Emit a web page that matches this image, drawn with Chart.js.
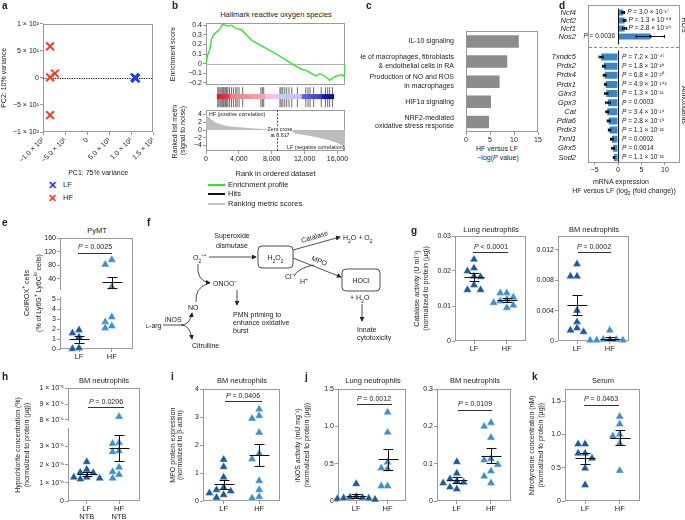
<!DOCTYPE html>
<html><head><meta charset="utf-8">
<script src="https://cdn.jsdelivr.net/npm/chart.js@4.4.1/dist/chart.umd.min.js"></script>
<style>
body{margin:0;background:#fff;}
#root{position:relative;width:685px;height:520px;overflow:hidden;font-family:"Liberation Sans",Arial,sans-serif;color:#222;background:#fff;-webkit-font-smoothing:antialiased;}
.t{position:absolute;white-space:nowrap;font-size:7px;line-height:1.15;}
</style></head>
<body><div id="root"></div>
<script>
// ================= DATA =================
// a: PCA
const pcaLFx = [108, 110, 109];
const pcaLFy = [1, -1, 0];
const pcaHFx = [-84, -84, -73, -84];
const pcaHFy = [58, 1, 8, -69];
const pcaXTicks = [-100, -50, 0, 50, 100, 150];
const pcaXLabels = ['−1.0 × 10²', '−5.0 × 10¹', '0', '5.0 × 10¹', '1.0 × 10²', '1.5 × 10²'];
const pcaYTicks = [-100, -50, 0, 50, 100];
const pcaYLabels = ['−1 × 10²', '−5 × 10¹', '0', '5 × 10¹', '1 × 10²'];
// b: GSEA
const esRank = [0,200,490,690,890,1170,1420,1700,1980,2310,2710,3120,3520,4330,5550,6760,8790,10400,11620,12230,12830,13440,13850,14450,15060,15590,15990,16480,16680,16880,16920];
const esScore = [0,0.087,0.156,0.26,0.295,0.32,0.337,0.36,0.406,0.40,0.39,0.40,0.37,0.35,0.243,0.184,0.087,0,-0.06,-0.07,-0.104,-0.128,-0.104,-0.128,-0.174,-0.139,-0.128,-0.115,-0.128,-0.12,0];
const hitRank = [121,283,445,607,769,891,1012,1174,1296,1417,1579,1822,2105,2389,2713,2915,3198,3725,6356,6559,6761,9109,9271,9514,9798,10081,10405,10810,11619,12834,13158,13441,13968,15061,15668,15992,16275,16680];
const metricRank = [0,150,490,1100,1800,2700,3700,4740,5900,7180,7400,8617,10500,10620,10830,11800,12850,13900,14880,15500,16100,16600,16920];
const metricValue = [4.3,3.6,3.0,2.0,1.45,1.0,0.78,0.6,0.42,0.25,0.06,0,-0.05,-0.6,-0.9,-1.2,-1.6,-2.05,-2.6,-3.0,-3.4,-4.0,-4.8];
const zeroCross = 8617;
const rankTicks = [0, 4000, 8000, 12000, 16000];
const rankLabels = ['0', '4,000', '8,000', '12,000', '16,000'];
const esTicks = [-0.2, -0.1, 0, 0.1, 0.2, 0.3, 0.4];
const esLabels = ['−0.2', '−0.1', '0', '0.1', '0.2', '0.3', '0.4'];
const metricTicks = [-4, -2, 0, 2, 4];
const metricLabels = ['−4', '−2', '0', '2', '4'];
// c: pathways
const pathways = ['IL-10 signaling', ['Role of macrophages, fibroblasts', '& endothelial cells in RA'], ['Production of NO and ROS', 'in macrophages'], 'HIF1α signaling', ['NRF2-mediated', 'oxidative stress response']];
const pathwayLogP = [11.0, 8.6, 7.0, 5.2, 4.8];
const cTicks = [0, 5, 10, 15];
const cLabels = ['0', '5', '10', '15'];
// d: mRNA fold change
const rosGenes = ['Ncf4', 'Ncf2', 'Ncf1', 'Nos2'];
const rosFC = [1.1, 1.4, 1.4, 6.9];
const rosErr = [0.3, 0.3, 0.45, 3.0];
const rosP = ['= 3.0 × 10⁻¹⁷', '= 1.3 × 10⁻⁶⁸', '= 2.8 × 10⁻²⁹', '= 0.0036'];
const antiGenes = ['Txndc5', 'Prdx2', 'Prdx4', 'Prdx1', 'Glrx3', 'Gpx3', 'Cat', 'Pdia6', 'Prdx3', 'Txnl1', 'Glrx5', 'Sod2'];
const antiFC = [-3.6, -3.0, -2.85, -2.65, -2.5, -2.15, -2.3, -2.0, -1.8, -1.3, -1.06, -0.85];
const antiErr = [0.45, 0.3, 0.3, 0.2, 0.35, 0.5, 0.3, 0.3, 0.25, 0.3, 0.3, 0.05];
const antiP = ['= 7.2 × 10⁻⁴⁷', '= 1.8 × 10⁻²⁹', '= 6.8 × 10⁻²⁰', '= 4.9 × 10⁻¹⁴³', '= 1.3 × 10⁻¹¹', '= 0.0003', '= 3.4 × 10⁻¹⁴', '= 2.8 × 10⁻¹⁹', '= 1.1 × 10⁻²²', '= 0.0002', '= 0.0014', '= 1.1 × 10⁻²²'];
const dTicks = [-5, 0, 5, 10];
const dLabels = ['−5', '0', '5', '10'];
// dot plots
const groups = ['LF', 'HF'];
const groupsNTB = [['LF', 'NTB'], ['HF', 'NTB']];
const eLF = [1.6, 1.9, 1.2, 0.02, 0.1];
const eHF = [82, 96, 16, 2.7, 2.1, 2.3, 3.2];
const eUpTicks = [40, 80, 120, 160], eUpLabels = ['40', '80', '120', '160'];
const eLoTicks = [0, 1, 2, 3, 4, 5], eLoLabels = ['0', '1', '2', '3', '4', '5'];
const gLungLF = [0.0233, 0.0208, 0.0200, 0.0185, 0.0183, 0.0160, 0.0146, 0.0146];
const gLungHF = [0.0137, 0.0137, 0.0125, 0.0119, 0.0114, 0.0109, 0.0102, 0.0095];
const gLungTicks = [0, 0.01, 0.02, 0.03], gLungLabels = ['0', '0.01', '0.02', '0.03'];
const gBMLF = [0.0101, 0.0085, 0.0085, 0.0040, 0.0025, 0.0017, 0.0014, 0.0012];
const gBMHF = [0.0014, 0.0002, 0.0002, 0.0001, 0.0001, 0.0002, 0.0001];
const gBMTicks = [0, 0.004, 0.008, 0.012], gBMLabels = ['0', '0.004', '0.008', '0.012'];
const hLF = [2.15e-6, 1.73e-6, 1.55e-6, 1.57e-6, 1.3e-6, 1.2e-6, 1.3e-6, 1.25e-6];
const hHF = [8.2e-6, 3.15e-6, 3.2e-6, 2.75e-6, 2.7e-6, 1.85e-6, 1.45e-6, 1.25e-6, 1.6e-6];
const hUpTicks = [8e-6, 9e-6, 1e-5], hUpLabels = ['8 × 10⁻⁶', '9 × 10⁻⁶', '1 × 10⁻⁵'];
const hLoTicks = [0, 1e-6, 2e-6, 3e-6], hLoLabels = ['0', '1 × 10⁻⁶', '2 × 10⁻⁶', '3 × 10⁻⁶'];
const iLF = [1.48, 1.22, 0.85, 0.48, 0.4, 0.28, 0.22, 0.12, 0.35];
const iHF = [3.28, 3.05, 2.95, 2.45, 1.5, 1.7, 0.72, 0.4, 0.15, 0.1];
const iTicks = [0, 1, 2, 3, 4], iLabels = ['0', '1', '2', '3', '4'];
const jLungLF = [0.23, 0.06, 0.045, 0.035, 0.02, 0.03, 0.05, 0.04];
const jLungHF = [1.19, 0.92, 0.52, 0.44, 0.43, 0.2, 0.2];
const jLungTicks = [0, 0.5, 1.0, 1.5], jLungLabels = ['0', '0.5', '1.0', '1.5'];
const jBMLF = [0.105, 0.074, 0.059, 0.053, 0.048, 0.05, 0.037, 0.032];
const jBMHF = [0.21, 0.2, 0.17, 0.113, 0.11, 0.098, 0.08, 0.066, 0.048];
const jBMTicks = [0, 0.1, 0.2, 0.3], jBMLabels = ['0', '0.1', '0.2', '0.3'];
const kLF = [0.855, 0.855, 0.715, 0.715, 0.64, 0.49, 0.24];
const kHF = [1.27, 1.155, 0.975, 1.0, 0.865, 0.455];
const kTicks = [0, 0.5, 1.0, 1.5], kLabels = ['0', '0.5', '1.0', '1.5'];

// ================= STYLE / HELPERS =================
const FRAME = '#9a9a9a';
const LF_C = '#1b5a9e', HF_C = '#3d8fd4', D_C = '#3a87c7';
Chart.defaults.font.family = '"Liberation Sans", Arial, sans-serif';
Chart.defaults.font.size = 7;
Chart.defaults.color = '#222';
const root = document.getElementById('root');

function T(x, y, html, o = {}) {
  const d = document.createElement('div'); d.className = 't'; d.innerHTML = html;
  d.style.fontSize = (o.fs || 7) + 'px';
  if (o.b) d.style.fontWeight = 'bold';
  if (o.col) d.style.color = o.col;
  if (o.lh) d.style.lineHeight = o.lh + 'px';
  if (o.ta) d.style.textAlign = o.ta;
  if (o.bg) d.style.background = o.bg;
  const ax = o.a === 'c' ? '-50%' : (o.a === 'r' ? '-100%' : '0');
  d.style.left = x + 'px'; d.style.top = y + 'px';
  d.style.transform = `translate(${ax},-50%)` + (o.rot ? ` rotate(${o.rot}deg)` : '');
  root.appendChild(d); return d;
}
function L(x1, y, x2, o = {}) {
  const d = document.createElement('div');
  d.style.cssText = `position:absolute;left:${x1}px;top:${y}px;width:${x2 - x1}px;height:0;border-top:${o.w || 1}px ${o.dash ? 'dashed' : 'solid'} ${o.c || '#222'}`;
  root.appendChild(d);
}
function Box(x, y, w, h, css) {
  const d = document.createElement('div');
  d.style.cssText = `position:absolute;left:${x}px;top:${y}px;width:${w}px;height:${h}px;box-sizing:border-box;` + css;
  root.appendChild(d);
}

function makeChart(plot, m, cfg) {
  const W = plot.w + m.l + m.r, H = plot.h + m.t + m.b;
  const cv = document.createElement('canvas');
  cv.width = W; cv.height = H;
  cv.style.cssText = `position:absolute;left:${plot.x - m.l}px;top:${plot.y - m.t}px;width:${W}px;height:${H}px`;
  root.appendChild(cv);
  const o = cfg.options = cfg.options || {};
  o.responsive = false; o.animation = false; o.devicePixelRatio = 1; o.events = [];
  const sc = o.scales = o.scales || {};
  const yS = sc.y && sc.y.display !== false, xS = sc.x && sc.x.display !== false;
  o.layout = { padding: { left: yS ? 0 : m.l, right: m.r, top: m.t, bottom: xS ? 0 : m.b } };
  if (yS) sc.y.afterFit = s => { s.width = m.l; };
  if (xS) sc.x.afterFit = s => { s.height = m.b; };
  o.plugins = Object.assign({ legend: { display: false }, tooltip: { enabled: false } }, o.plugins || {});
  return new Chart(cv, cfg);
}

function linAxis(pos, min, max, ticks, labels, extra = {}) {
  const a = {
    type: 'linear', position: pos, min, max,
    afterBuildTicks: s => { s.ticks = ticks.map(v => ({ value: v })); },
    grid: { drawOnChartArea: false, tickLength: 3, tickColor: FRAME, color: FRAME },
    border: { display: false },
    ticks: { padding: 1, font: { size: 7 }, color: '#222', autoSkip: false, maxRotation: 0,
      callback: v => { const i = ticks.indexOf(v); return i < 0 ? '' : labels[i]; } }
  };
  return Object.assign(a, extra);
}
function axTitle(text, extra = {}) {
  return Object.assign({ display: true, text, color: '#222', font: { size: 7, lineHeight: 1.15 }, padding: { top: 0, bottom: 0 } }, extra);
}
function groupAxis(labels) {
  return {
    type: 'linear', position: 'bottom', min: 0.42, max: 2.58,
    afterBuildTicks: s => { s.ticks = [{ value: 1 }, { value: 2 }]; },
    grid: { drawOnChartArea: false, tickLength: 3, tickColor: FRAME, color: FRAME },
    border: { display: false },
    ticks: { padding: 1, font: { size: 7.5, lineHeight: 1.1 }, color: '#222', maxRotation: 0, autoSkip: false,
      callback: v => labels[v - 1] }
  };
}
// beeswarm-like spreading of points of similar value (layout only)
function swarm(vals, c, thr, step) {
  const placed = [], out = new Array(vals.length);
  const order = vals.map((v, i) => i).sort((a, b) => vals[b] - vals[a]);
  for (const i of order) {
    const v = vals[i];
    let k = 0;
    for (const cand of [0, -1, 1, -2, 2, -3, 3]) {
      k = cand;
      if (placed.every(p => Math.abs(p.y - v) >= thr || p.o !== cand)) break;
    }
    placed.push({ y: v, o: k }); out[i] = { x: c + k * step, y: v };
  }
  return out;
}

// ---------- plugins ----------
Chart.register({
  id: 'frame',
  beforeDatasetsDraw(c, a, o) {
    if (!o.show) return;
    const r = c.chartArea, ctx = c.ctx;
    ctx.save(); ctx.strokeStyle = o.color || FRAME; ctx.lineWidth = 1;
    ctx.strokeRect(Math.round(r.left) + 0.5, Math.round(r.top) + 0.5, Math.round(r.width) - 1, Math.round(r.height) - 1);
    ctx.restore();
  }
});
Chart.register({
  id: 'refl',
  beforeDatasetsDraw(c, a, o) {
    if (!o.lines) return;
    const r = c.chartArea, ctx = c.ctx;
    ctx.save();
    o.lines.forEach(l => {
      ctx.strokeStyle = l.color || '#000'; ctx.lineWidth = l.width || 1; ctx.setLineDash(l.dash || []);
      ctx.beginPath();
      if (l.axis === 'x') {
        const px = Math.round(c.scales.x.getPixelForValue(l.value)) + 0.5;
        ctx.moveTo(px, r.top - (l.ext || 0)); ctx.lineTo(px, r.bottom + (l.ext || 0));
      } else {
        const py = Math.round(c.scales.y.getPixelForValue(l.value)) + 0.5;
        ctx.moveTo(r.left, py); ctx.lineTo(r.right, py);
      }
      ctx.stroke();
    });
    ctx.restore();
  }
});
Chart.register({
  id: 'errbar',
  afterDatasetsDraw(c, a, o) {
    if (!o.groups) return;
    const r = c.chartArea, ctx = c.ctx, xs = c.scales.x, ys = c.scales.y;
    ctx.save(); ctx.beginPath(); ctx.rect(r.left, r.top - 1, r.width, r.height + 2); ctx.clip();
    ctx.strokeStyle = '#111'; ctx.lineWidth = 1;
    const seg = (x1, y1, x2, y2) => { ctx.beginPath(); ctx.moveTo(x1, y1); ctx.lineTo(x2, y2); ctx.stroke(); };
    o.groups.forEach((vals, gi) => {
      const n = vals.length, mean = vals.reduce((s, v) => s + v, 0) / n;
      const sd = Math.sqrt(vals.reduce((s, v) => s + (v - mean) ** 2, 0) / (n - 1)), se = sd / Math.sqrt(n);
      const px = Math.round(xs.getPixelForValue(gi + 1)) + 0.5;
      const pm = Math.round(ys.getPixelForValue(mean)) + 0.5;
      const ph = Math.round(ys.getPixelForValue(mean + se)) + 0.5, pl = Math.round(ys.getPixelForValue(mean - se)) + 0.5;
      seg(px - 10, pm, px + 10, pm);
      seg(px, ph, px, pl);
      seg(px - 5, ph, px + 5, ph); seg(px - 5, pl, px + 5, pl);
    });
    ctx.restore();
  }
});
Chart.register({
  id: 'cbar',
  afterDatasetsDraw(c, a, o) {
    if (!o.stops) return;
    const r = c.chartArea, ctx = c.ctx;
    const g = ctx.createLinearGradient(r.left, 0, r.right, 0);
    o.stops.forEach(s => g.addColorStop(s[0], s[1]));
    ctx.save(); ctx.fillStyle = g; ctx.fillRect(r.left, r.bottom - o.h, r.width, o.h); ctx.restore();
  }
});
Chart.register({
  id: 'dextra',
  afterDatasetsDraw(c, a, o) {
    if (!o.vals) return;
    const ctx = c.ctx, xs = c.scales.x, ys = c.scales.y;
    ctx.save();
    const x0 = xs.getPixelForValue(0);
    const FS = '6.5px "Liberation Sans", Arial';
    o.vals.forEach((v, i) => {
      const py = ys.getPixelForValue(i), e = o.errs[i];
      const a1 = xs.getPixelForValue(v - e), a2 = xs.getPixelForValue(v + e);
      ctx.strokeStyle = '#111'; ctx.lineWidth = 1.1;
      ctx.beginPath(); ctx.moveTo(a1, py); ctx.lineTo(a2, py);
      ctx.moveTo(a1, py - 1.5); ctx.lineTo(a1, py + 1.5); ctx.moveTo(a2, py - 1.5); ctx.lineTo(a2, py + 1.5); ctx.stroke();
      ctx.fillStyle = '#111'; ctx.beginPath(); ctx.arc(xs.getPixelForValue(v), py, 1.4, 0, 2 * Math.PI); ctx.fill();
      ctx.fillStyle = '#222'; ctx.textBaseline = 'middle';
      const rest = ' ' + o.p[i];
      ctx.font = 'italic ' + FS;
      const wP = ctx.measureText('P').width;
      ctx.font = FS;
      const wR = ctx.measureText(rest).width;
      let tx;
      if (v > 3) tx = x0 - 3 - wP - wR;
      else if (v > 0) tx = xs.getPixelForValue(v) + 4;
      else tx = x0 + 4;
      ctx.font = 'italic ' + FS; ctx.fillText('P', tx, py);
      ctx.font = FS; ctx.fillText(rest, tx + wP, py);
    });
    ctx.strokeStyle = '#111'; ctx.lineWidth = 1;
    const zx = Math.round(x0) + 0.5;
    ctx.beginPath(); ctx.moveTo(zx, c.chartArea.top - o.ext); ctx.lineTo(zx, c.chartArea.bottom + o.ext2); ctx.stroke();
    ctx.restore();
  }
});

// ================= PANEL a =================
const chartA = makeChart({ x: 43, y: 22, w: 112, h: 110 }, { l: 43, t: 6, r: 6, b: 45 }, {
  type: 'scatter',
  data: { datasets: [
    { data: pcaLFx.map((x, i) => ({ x, y: pcaLFy[i] })), pointStyle: 'crossRot', pointRadius: 5.5, pointBorderWidth: 2.2, pointBorderColor: '#1e3cff', clip: false },
    { data: pcaHFx.map((x, i) => ({ x, y: pcaHFy[i] })), pointStyle: 'crossRot', pointRadius: 5.5, pointBorderWidth: 2, pointBorderColor: '#ff3b1f', clip: false }
  ] },
  options: {
    scales: {
      x: linAxis('bottom', -100, 150, pcaXTicks, pcaXLabels, { title: axTitle('PC1: 75% variance') }),
      y: linAxis('left', -100, 100, pcaYTicks, pcaYLabels, { title: axTitle('PC2: 10% variance') })
    },
    plugins: { frame: { show: true }, refl: { lines: [{ axis: 'y', value: 0, color: '#111', dash: [1.2, 1.2], width: 1 }] } }
  }
});
chartA.options.scales.x.ticks.minRotation = 45;
chartA.options.scales.x.ticks.maxRotation = 45;
chartA.update();
T(52, 185, '✕', { fs: 11, b: true, col: '#1e3cff', a: 'c' }); T(63, 185, 'LF', { fs: 7.5 });
T(52, 198, '✕', { fs: 11, b: true, col: '#ff3b1f', a: 'c' }); T(63, 198, 'HF', { fs: 7.5 });

// ================= PANEL b =================
T(276, 15, 'Hallmark reactive oxygen species', { fs: 7.5, a: 'c' });
makeChart({ x: 206, y: 23, w: 139, h: 62 }, { l: 37, t: 5, r: 3, b: 5 }, {
  type: 'line',
  data: { datasets: [{ data: esRank.map((x, i) => ({ x, y: esScore[i] })), borderColor: '#27e827', borderWidth: 1.3, pointRadius: 0, tension: 0 }] },
  options: {
    scales: {
      x: { type: 'linear', min: 0, max: 16920, display: false },
      y: linAxis('left', -0.22, 0.42, esTicks, esLabels, { title: axTitle('Enrichment score') })
    },
    plugins: { frame: { show: true }, refl: { lines: [{ axis: 'y', value: 0, color: '#b0b0b0', width: 1 }] } }
  }
});
makeChart({ x: 206, y: 85, w: 139, h: 25 }, { l: 0, t: 0, r: 0, b: 0 }, {
  type: 'scatter',
  data: { datasets: [{ data: hitRank.map(x => ({ x, y: 0.6 })), showLine: false, pointStyle: 'line', pointRotation: 90, pointRadius: 10, pointBorderColor: '#5a5a5a', pointBorderWidth: 0.9, clip: false }] },
  options: {
    scales: { x: { type: 'linear', min: 0, max: 16920, display: false }, y: { type: 'linear', min: 0, max: 1, display: false } },
    plugins: { frame: { show: true }, cbar: { h: 5, stops: [[0, '#e0141c'], [0.1, '#ec3a44'], [0.12, '#f47c84'], [0.41, '#f7a6b4'], [0.42, '#f6bce2'], [0.52, '#f4c4e8'], [0.53, '#cacaf6'], [0.72, '#c2c2f2'], [0.73, '#6060e6'], [0.89, '#3a3ad6'], [0.9, '#1818b4'], [1, '#0c0c96']] } }
  }
});
makeChart({ x: 206, y: 110, w: 139, h: 41 }, { l: 35, t: 5, r: 12, b: 27 }, {
  type: 'line',
  data: { datasets: [{ data: metricRank.map((x, i) => ({ x, y: metricValue[i] })), borderWidth: 0, pointRadius: 0, fill: 'origin', backgroundColor: '#bdbdbd', tension: 0 }] },
  options: {
    scales: {
      x: linAxis('bottom', 0, 16920, rankTicks, rankLabels, { title: axTitle('Rank in ordered dataset', { font: { size: 7.5 } }) }),
      y: linAxis('left', -5.4, 5.1, metricTicks, metricLabels, { title: axTitle(['Ranked list metric', '(signal to noise)']) })
    },
    plugins: { frame: { show: true }, refl: { lines: [{ axis: 'x', value: zeroCross, color: '#444', dash: [2, 1.5], width: 1 }] } }
  }
});
T(209, 114, 'HF (positive correlation)', { fs: 5.3 });
T(280, 132, 'Zero cross<br>at 8,617', { fs: 5.3, a: 'c', ta: 'center', lh: 5.5, bg: 'rgba(255,255,255,0.85)' });
T(287, 147, 'LF (negative correlation)', { fs: 5.3 });
L(208, 184, 225, { w: 2, c: '#22ee22' }); T(228, 184.5, 'Enrichment profile', { fs: 7.5 });
L(208, 193, 225, { w: 2, c: '#111' }); T(228, 193.5, 'Hits', { fs: 7.5 });
L(208, 203, 225, { w: 2, c: '#c4c4c4' }); T(228, 203.5, 'Ranking metric scores', { fs: 7.5 });

// ================= PANEL c =================
makeChart({ x: 466, y: 24, w: 72, h: 108 }, { l: 106, t: 5, r: 8, b: 12 }, {
  type: 'bar',
  data: { labels: pathways, datasets: [{ data: pathwayLogP, backgroundColor: '#8c8c8c', barPercentage: 0.62, categoryPercentage: 1 }] },
  options: {
    indexAxis: 'y',
    scales: {
      x: linAxis('bottom', 0, 15, cTicks, cLabels),
      y: { type: 'category', grid: { display: false }, border: { display: false }, ticks: { autoSkip: false, padding: 4, color: '#222', font: { size: 7, lineHeight: 1.2 } } }
    },
    plugins: { frame: { show: true } }
  }
});
T(497, 149, 'HF versus LF', { fs: 7, a: 'c' });
T(498, 158, '−log(<i>P</i> value)', { fs: 7, a: 'c' });

// ================= PANEL d =================
function dChart(plot, m, genes, vals, errs, ps, showX, ext, ext2) {
  return makeChart(plot, m, {
    type: 'bar',
    data: { labels: genes, datasets: [{ data: vals, backgroundColor: D_C, barPercentage: 0.78, categoryPercentage: 1 }] },
    options: {
      indexAxis: 'y',
      scales: {
        x: showX ? linAxis('bottom', -6.4, 13, dTicks, dLabels) : { type: 'linear', min: -6.4, max: 13, display: false },
        y: { type: 'category', grid: { display: false }, border: { display: false }, ticks: { autoSkip: false, padding: 4, color: '#222', font: { size: 7.5, style: 'italic' } } }
      },
      plugins: { dextra: { vals, errs, p: ps, ext, ext2 } }
    }
  });
}
Box(588, 5, 92, 158, `border:1px solid ${FRAME};`);
dChart({ x: 588, y: 5, w: 91, h: 39 }, { l: 50, t: 5, r: 0, b: 5 }, rosGenes, rosFC, rosErr, rosP, false, 0, 4);
L(589, 47, 679, { dash: true, c: '#888' });
dChart({ x: 588, y: 49, w: 91, h: 113 }, { l: 50, t: 5, r: 0, b: 12 }, antiGenes, antiFC, antiErr, antiP, true, 2, 0);
T(621, 182, 'mRNA expression', { fs: 7, a: 'c' });
T(624, 192, 'HF versus LF (log<sub style="font-size:5px">2</sub> (fold change))', { fs: 7, a: 'c' });
T(684, 25, 'ROS', { fs: 7, a: 'c', rot: 90 });
T(684, 105, 'Antioxidants', { fs: 7, a: 'c', rot: 90 });

// ================= dot plots =================
function dotChart(plot, m, lf, hf, min, max, ticks, labels, opt) {
  const keep = opt.keep || (() => true);
  const thr = (max - min) * 6 / plot.h;
  const a = lf.filter(keep), b = hf.filter(keep);
  return makeChart(plot, m, {
    type: 'scatter',
    data: { datasets: [
      { data: swarm(a, 1, thr, 0.2), pointStyle: 'triangle', pointRadius: 4.8, pointBackgroundColor: LF_C, pointBorderColor: '#ffffff', pointBorderWidth: 0.4, clip: false },
      { data: swarm(b, 2, thr, 0.2), pointStyle: 'triangle', pointRadius: 4.8, pointBackgroundColor: HF_C, pointBorderColor: '#ffffff', pointBorderWidth: 0.4, clip: false }
    ] },
    options: {
      scales: {
        x: opt.xlabels ? groupAxis(opt.xlabels) : { type: 'linear', min: 0.42, max: 2.58, display: false },
        y: linAxis('left', min, max, ticks, labels, Object.assign(opt.title ? { title: axTitle(opt.title, { font: { size: 7, lineHeight: opt.tlh || 1.25 } }) } : {},
          opt.border ? { border: { display: true, color: FRAME } } : {}))
      },
      plugins: { frame: { show: !opt.border }, errbar: { groups: [lf, hf] } }
    }
  });
}
function pval(x, y, txt, u1, u2, uy) { T(x, y, txt, { fs: 7, a: 'c' }); L(u1, uy, u2, { w: 1.5, c: '#333' }); }

// e
T(97, 231, 'PyMT', { fs: 7.5, a: 'c' });
Box(60, 238, 73, 111, `border:1px solid ${FRAME};border-left:none;`);
dotChart({ x: 60, y: 238, w: 73, h: 52 }, { l: 40, t: 5, r: 3, b: 5 }, eLF, eHF, 7, 160, eUpTicks, eUpLabels, { keep: v => v > 6, border: true });
dotChart({ x: 60, y: 297, w: 73, h: 52 }, { l: 40, t: 5, r: 3, b: 14 }, eLF, eHF, 0, 5.2, eLoTicks, eLoLabels, { keep: v => v <= 6, border: true, xlabels: groups });
T(31, 293, 'CellROX<sup style="font-size:5px">+</sup> cells<br>(% of Ly6G<sup style="font-size:5px">+</sup> Ly6C<sup style="font-size:5px">lo</sup> cells)', { fs: 7, a: 'c', ta: 'center', lh: 8.5, rot: -90 });
pval(95, 247, '<i>P</i> = 0.0025', 78, 112, 253);

// f schematic
root.insertAdjacentHTML('beforeend', `
<svg width="685" height="520" style="position:absolute;left:0;top:0" font-family="Liberation Sans, Arial, sans-serif" font-size="7" fill="#222">
<defs><marker id="ah" viewBox="0 0 6 6" refX="5" refY="3" markerUnits="userSpaceOnUse" markerWidth="5" markerHeight="5" orient="auto"><path d="M0,0 L6,3 L0,6 z" fill="#222"/></marker></defs>
<g stroke="#222" stroke-width="0.8" fill="none">
<line x1="209" y1="257" x2="256" y2="257" marker-end="url(#ah)"/>
<rect x="258" y="246" width="35" height="22" rx="4"/>
<line x1="293" y1="250" x2="340" y2="237" marker-end="url(#ah)"/>
<line x1="293" y1="258" x2="341" y2="277" marker-end="url(#ah)"/>
<path d="M294,276 Q298,268 314,265"/>
<rect x="342" y="269" width="38" height="22" rx="4"/>
<line x1="362" y1="304" x2="362" y2="321" marker-end="url(#ah)"/>
<path d="M198,264 Q196,281 210,283" marker-end="url(#ah)"/>
<path d="M196,302 Q195,288 207,284"/>
<line x1="237" y1="290" x2="237" y2="305" marker-end="url(#ah)"/>
<path d="M163,325 L181,325 Q190,325 192,313" marker-end="url(#ah)"/>
<path d="M181,325 Q190,325 192,339" marker-end="url(#ah)"/>
</g>
<text x="193" y="260">O<tspan baseline-shift="sub" font-size="5">2</tspan><tspan baseline-shift="super" font-size="5">−•</tspan></text>
<text x="232" y="238" text-anchor="middle">Superoxide</text>
<text x="232" y="248" text-anchor="middle">dismutase</text>
<text x="275.5" y="260" text-anchor="middle">H<tspan baseline-shift="sub" font-size="5">2</tspan>O<tspan baseline-shift="sub" font-size="5">2</tspan></text>
<text transform="translate(302,243) rotate(-17)">Catalase</text>
<text x="343" y="240">H<tspan baseline-shift="sub" font-size="5">2</tspan>O + O<tspan baseline-shift="sub" font-size="5">2</tspan></text>
<text transform="translate(311,260) rotate(22)">MPO</text>
<text x="285" y="279">Cl<tspan baseline-shift="super" font-size="5">−</tspan></text>
<text x="300" y="284">H<tspan baseline-shift="super" font-size="5">+</tspan></text>
<text x="361" y="283" text-anchor="middle">HOCl</text>
<text x="350" y="300">+ H<tspan baseline-shift="sub" font-size="5">2</tspan>O</text>
<text x="357" y="332">Innate</text>
<text x="357" y="340">cytotoxicity</text>
<text x="213" y="286">ONOO<tspan baseline-shift="super" font-size="5">−</tspan></text>
<text x="233" y="317">PMN priming to</text>
<text x="233" y="325">enhance oxidative</text>
<text x="233" y="333">burst</text>
<text x="188" y="310">NO</text>
<text x="146" y="328"><tspan font-size="5.5">L</tspan>-arg</text>
<text x="165" y="322">iNOS</text>
<text x="192" y="348">Citrulline</text>
</svg>`);

// g
T(491, 230, 'Lung neutrophils', { fs: 7.5, a: 'c' });
T(594, 230, 'BM neutrophils', { fs: 7.5, a: 'c' });
dotChart({ x: 455, y: 236, w: 72, h: 105 }, { l: 42, t: 6, r: 4, b: 14 }, gLungLF, gLungHF, 0, 0.03, gLungTicks, gLungLabels, { xlabels: groups, title: ['Catalase activity (U ml⁻¹)', '(normalized to protein (µg))'] });
dotChart({ x: 558, y: 236, w: 72, h: 105 }, { l: 28, t: 6, r: 4, b: 14 }, gBMLF, gBMHF, 0, 0.0138, gBMTicks, gBMLabels, { xlabels: groups });
pval(491, 247, '<i>P</i> &lt; 0.0001', 473, 508, 252);
pval(594, 247, '<i>P</i> = 0.0002', 578, 611, 252);

// h
T(104, 381, 'BM neutrophils', { fs: 7.5, a: 'c' });
Box(68, 388, 72, 113, `border:1px solid ${FRAME};border-left:none;`);
dotChart({ x: 68, y: 388, w: 72, h: 33 }, { l: 45, t: 5, r: 3, b: 5 }, hLF, hHF, 7.94e-6, 1e-5, hUpTicks, hUpLabels, { keep: v => v > 5e-6, border: true });
dotChart({ x: 68, y: 428, w: 72, h: 73 }, { l: 45, t: 5, r: 3, b: 19 }, hLF, hHF, 0, 4.0e-6, hLoTicks, hLoLabels, { keep: v => v <= 5e-6, border: true, xlabels: groupsNTB });
T(22, 445, 'Hypochlorite concentration (%)<br>(normalized to protein (µg))', { fs: 7, a: 'c', ta: 'center', lh: 8.5, rot: -90 });
pval(106, 402, '<i>P</i> = 0.0206', 88, 124, 407);

// i
T(242, 381, 'BM neutrophils', { fs: 7.5, a: 'c' });
dotChart({ x: 203, y: 389, w: 79, h: 112 }, { l: 34, t: 5, r: 3, b: 19 }, iLF, iHF, 0, 4, iTicks, iLabels, { xlabels: groups, tlh: 1.1, title: ['MPO protein expression', '(normalized to β-actin)'] });
pval(243, 396, '<i>P</i> = 0.0406', 225, 262, 401);

// j
T(373, 381, 'Lung neutrophils', { fs: 7.5, a: 'c' });
T(475, 381, 'BM neutrophils', { fs: 7.5, a: 'c' });
dotChart({ x: 338, y: 389, w: 70, h: 112 }, { l: 44, t: 5, r: 3, b: 19 }, jLungLF, jLungHF, 0, 1.5, jLungTicks, jLungLabels, { xlabels: groups, title: ['iNOS activity (mU mg⁻¹)', '(normalized to protein (µg))'] });
dotChart({ x: 437, y: 389, w: 76, h: 112 }, { l: 28, t: 5, r: 3, b: 19 }, jBMLF, jBMHF, 0, 0.3, jBMTicks, jBMLabels, { xlabels: groups });
pval(374, 399, '<i>P</i> = 0.0012', 357, 392, 404);
pval(475, 404, '<i>P</i> = 0.0109', 458, 492, 410);

// k
T(603, 381, 'Serum', { fs: 7.5, a: 'c' });
dotChart({ x: 565, y: 389, w: 77, h: 112 }, { l: 37, t: 5, r: 3, b: 19 }, kLF, kHF, 0, 1.68, kTicks, kLabels, { xlabels: groups, title: ['Nitrotyrosine concentration (nM)', '(normalized to protein (µg))'] });
pval(601, 399, '<i>P</i> = 0.0463', 584, 619, 405);

// panel letters
[['a', 2, 6], ['b', 172, 6], ['c', 366, 6], ['d', 559, 6], ['e', 2, 223], ['f', 147, 223], ['g', 411, 231], ['h', 2, 377], ['i', 171, 377], ['j', 305, 377], ['k', 532, 377]]
  .forEach(([s, x, y]) => T(x, y, s, { fs: 10, b: true }));
</script>
</body></html>
